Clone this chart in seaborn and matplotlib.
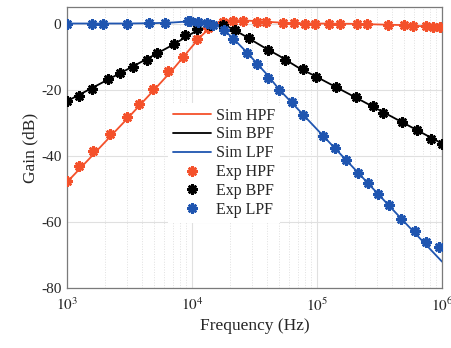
import numpy as np
import pandas as pd
import matplotlib
matplotlib.use("Agg")
import matplotlib.pyplot as plt
import seaborn as sns

### DATA ###

SIM_FREQ = [1e3, 1.5e3, 2e3, 3e3, 5e3, 7e3, 1e4, 1.2e4, 1.4e4, 1.6e4, 1.8e4, 2e4,
            2.2e4, 2.6e4, 3e4, 4e4, 5e4, 7e4, 1e5, 2e5, 5e5, 1e6]
SIM_HPF = [-48.0, -41.0, -36.0, -29.0, -20.0, -14.0, -7.0, -3.6, -1.2, 0.3, 0.8, 1.0,
           1.0, 0.9, 0.8, 0.5, 0.3, 0.1, 0.0, -0.1, -0.5, -1.2]
SIM_BPF = [-23.5, -20.0, -17.5, -14.0, -9.5, -6.5, -3.0, -1.6, -0.6, -0.2, -0.6, -1.2,
           -2.0, -3.6, -5.0, -7.8, -9.8, -13.2, -16.2, -22.2, -30.2, -36.3]
SIM_LPF = [0.0, 0.0, 0.0, 0.0, 0.1, 0.3, 0.7, 0.7, 0.3, -0.6, -2.2, -3.5,
           -5.0, -7.8, -10.3, -15.5, -20.0, -25.8, -32.0, -44.0, -60.0, -72.0]

EXP_HPF_FREQ = [1000, 1250, 1620, 2210, 3000, 3770, 4850, 6460, 8510, 11000, 13500,
                17800, 21400, 25700, 32900, 39400, 53000, 65000, 80000, 96000,
                125000, 153000, 208000, 250000, 372000, 497000, 590000, 740000,
                850000, 965000]
EXP_HPF = [-47.6, -43.2, -38.6, -33.4, -28.4, -24.4, -19.9, -14.4, -10.1, -4.8, -1.4,
           0.6, 0.9, 0.9, 0.6, 0.5, 0.2, 0.1, 0.0, 0.0,
           -0.1, -0.1, -0.2, -0.2, -0.5, -0.6, -0.7, -0.9, -1.0, -1.1]

EXP_BPF_FREQ = [1000, 1260, 1580, 2140, 2660, 3400, 4340, 5300, 7130, 8880, 10900,
                14000, 17800, 22000, 28800, 40700, 55600, 76600, 99000, 142000,
                206000, 279000, 339000, 476000, 628000, 823000, 995000]
EXP_BPF = [-23.4, -21.9, -19.8, -16.9, -15.1, -13.1, -10.9, -8.8, -6.1, -3.6, -1.8,
           -0.4, -0.5, -2.0, -4.4, -7.9, -10.9, -13.9, -16.1, -19.3,
           -22.3, -24.9, -27.1, -29.9, -32.3, -34.9, -36.3]

EXP_LPF_FREQ = [1000, 1580, 1950, 3000, 4530, 6090, 9380, 9700, 11200, 13100, 14800,
                17900, 21300, 27400, 33000, 40700, 49900, 62900, 77800, 112000,
                139000, 171000, 214000, 257000, 309000, 379000, 468000, 608000,
                745000, 951000]
EXP_LPF = [0.0, 0.0, 0.0, 0.0, 0.1, 0.3, 0.7, 0.7, 0.6, 0.1, -0.6,
           -2.1, -4.6, -8.9, -12.1, -16.4, -20.1, -23.6, -27.6, -34.1,
           -37.6, -41.4, -45.1, -48.1, -51.4, -55.0, -59.2, -62.7, -65.9, -67.7]

XTICKS = [1e3, 1e4, 1e5, 1e6]
XTICK_LABELS = ["$10^3$", "$10^4$", "$10^5$", "$10^6$"]
YTICKS = [-80, -60, -40, -20, 0]

RED = "#F4512B"
BLACK = "#000000"
BLUE = "#1F55B0"

### PLOT ###

sns.set_style("white")
plt.rcParams["font.family"] = ["Liberation Serif", "DejaVu Serif"]
plt.rcParams["mathtext.fontset"] = "stix"
plt.rcParams["axes.unicode_minus"] = False

fig = plt.figure(figsize=(4.52, 3.48), dpi=100)
ax = fig.add_axes([0.148, 0.172, 0.83, 0.808])

sim = pd.DataFrame({"f": SIM_FREQ, "HPF": SIM_HPF, "BPF": SIM_BPF, "LPF": SIM_LPF})
colors = {"HPF": RED, "BPF": BLACK, "LPF": BLUE}

for name in ["HPF", "BPF", "LPF"]:
    sns.lineplot(data=sim, x="f", y=name, color=colors[name], lw=1.3,
                 label=f"Sim {name}", ax=ax, sort=False, estimator=None, zorder=2)

star = (8, 2, 0)
exp_sets = [("HPF", EXP_HPF_FREQ, EXP_HPF), ("BPF", EXP_BPF_FREQ, EXP_BPF),
            ("LPF", EXP_LPF_FREQ, EXP_LPF)]
for name, fx, gy in exp_sets:
    sns.lineplot(x=fx, y=gy, color=colors[name], linestyle="", marker=star,
                 markersize=7.5, markeredgewidth=1.8, markeredgecolor=colors[name],
                 label=f"Exp {name}", ax=ax, sort=False, estimator=None, zorder=3)

ax.set_xscale("log")
ax.set_xlim(1e3, 1e6)
ax.set_ylim(-80, 5)
ax.set_xticks(XTICKS)
ax.set_xticklabels(XTICK_LABELS)
ax.set_yticks(YTICKS)

ax.grid(True, which="major", color="#e0e0e0", lw=0.8)
ax.grid(True, which="minor", axis="x", color="#e0e0e0", lw=0.7, ls=":")
ax.set_axisbelow(True)
for s in ax.spines.values():
    s.set_color("#7a7a7a")
    s.set_linewidth(0.9)

ax.tick_params(axis="both", which="major", labelsize=11, length=0, pad=4)
ax.tick_params(axis="x", which="major", pad=6)
ax.tick_params(axis="x", which="minor", length=0)

ax.set_xlabel("Frequency (Hz)", fontsize=12.5, labelpad=3)
ax.set_ylabel("Gain (dB)", fontsize=12.5, labelpad=2)

leg = ax.legend(loc="center", bbox_to_anchor=(0.418, 0.446), fontsize=11.5,
                frameon=True, framealpha=1, edgecolor="white", fancybox=False,
                handlelength=2.4, labelspacing=0.18, borderpad=0.3, handletextpad=0.3,
                borderaxespad=0)
leg.get_frame().set_linewidth(0)

plt.savefig("out.png", dpi=100)
